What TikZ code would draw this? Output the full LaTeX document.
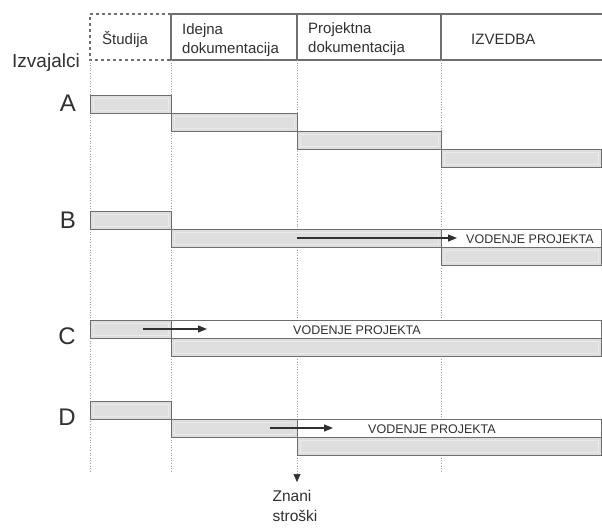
\documentclass[tikz,border=0pt]{standalone}
\usepackage{fontspec}
\setmainfont{Liberation Sans}
\usetikzlibrary{arrows.meta,positioning}
\definecolor{BarFill}{HTML}{DEDEDE}
\definecolor{BarEdge}{HTML}{6E6E6E}
\definecolor{BarGlow}{HTML}{EAEAEA}
\definecolor{GridGray}{HTML}{A0A0A0}
\definecolor{HeadGray}{HTML}{707070}
\definecolor{InkGray}{HTML}{303030}
\tikzset{
  bar/.style={draw=BarEdge,fill=BarFill,line width=1pt,anchor=north west,
              minimum height=18pt,inner sep=0pt,outer sep=0pt,
              path picture={\draw[BarGlow,line width=0.9pt]
                ([shift={(3pt,-3pt)}]path picture bounding box.north west) rectangle
                ([shift={(-3pt,3pt)}]path picture bounding box.south east);}},
  leadbox/.style={draw=BarEdge,fill=white,line width=1pt,anchor=north west,
              minimum height=18pt,inner sep=0pt,outer sep=0pt},
  headline/.style={draw=HeadGray,line width=1.1pt},
  grid/.style={draw=GridGray,line width=0.6pt,dotted},
  flow/.style={-{Triangle[length=9pt,width=7pt]},line width=1.1pt,draw=InkGray},
  headtext/.style={font=\fontsize{15}{18.5}\selectfont,text=InkGray,align=left,anchor=west,inner sep=0pt},
  rowlabel/.style={font=\fontsize{24}{24}\selectfont,text=InkGray,anchor=base east,inner sep=0pt},
  leadtext/.style={font=\fontsize{12.5}{12.5}\selectfont,text=InkGray,anchor=base west,inner sep=0pt},
  note/.style={font=\fontsize{15.5}{20}\selectfont,text=InkGray,align=left}
}
\begin{document}
\begin{tikzpicture}[x=1pt,y=-1pt]
  \useasboundingbox (0,0) rectangle (602,528);

  % header
  \draw[headline,dashed] (171,14) -- (90,14) -- (90,60) -- (171,60);
  \draw[headline] (602,14) -- (171,14) -- (171,60) -- (602,60);
  \draw[headline] (297,14) -- (297,60);
  \draw[headline] (441,14) -- (441,60);
  \node[headtext] (studija) at (102,39) {Študija};
  \node[headtext] (idejna) at (182,40) {Idejna\\dokumentacija};
  \node[headtext] (projektna) at (308,39) {Projektna\\dokumentacija};
  \node[headtext] (izvedba) at (471,39) {IZVEDBA};
  \node[headtext,anchor=base west,font=\fontsize{19}{19}\selectfont] (izvajalci) at (12,67) {Izvajalci};

  % time lines
  \foreach \x in {90,171,441}
    \draw[grid] (\x,60) -- (\x,472);
  \coordinate (costtop) at (297,60);
  \coordinate (costtip) at (297,482);
  \draw[grid,-{Triangle[length=8pt,width=7pt,color=InkGray]}] (costtop) -- (costtip);
  \node[note,below=5pt of costtip,xshift=-2pt] (cost) {Znani\\stroški};

  % A
  \node[rowlabel] (rowA) at (76,111) {A};
  \node[bar,minimum width=81pt] (a1) at (90,95) {};
  \node[bar,minimum width=126pt] (a2) at (171,113) {};
  \node[bar,minimum width=144pt] (a3) at (297,131) {};
  \node[bar,minimum width=160pt] (a4) at (441,149) {};

  % B
  \node[rowlabel] (rowB) at (76,228) {B};
  \node[bar,minimum width=81pt] (b1) at (90,211) {};
  \node[bar,minimum width=270pt] (b2) at (171,229) {};
  \node[leadbox,minimum width=160pt] (blead) at (441,229) {};
  \node[bar,minimum width=160pt] (b3) at (441,247) {};
  \node[leadtext] (btext) at (466,243) {VODENJE PROJEKTA};
  \coordinate (bfrom) at (297,238);
  \coordinate (bto) at (457,238);
  \draw[flow] (bfrom) -- (bto);

  % C
  \node[rowlabel] (rowC) at (76,344) {C};
  \node[bar,minimum width=81pt] (c1) at (90,320) {};
  \node[leadbox,minimum width=430pt] (clead) at (171,320) {};
  \node[bar,minimum width=430pt] (c2) at (171,338) {};
  \node[leadtext] (ctext) at (293,334) {VODENJE PROJEKTA};
  \coordinate (cfrom) at (143,329);
  \coordinate (cto) at (207,329);
  \draw[flow] (cfrom) -- (cto);

  % D
  \node[rowlabel] (rowD) at (76,425) {D};
  \node[bar,minimum width=81pt] (d1) at (90,401) {};
  \node[bar,minimum width=126pt] (d2) at (171,419) {};
  \node[leadbox,minimum width=304pt] (dlead) at (297,419) {};
  \node[bar,minimum width=304pt] (d3) at (297,437) {};
  \node[leadtext] (dtext) at (368,433) {VODENJE PROJEKTA};
  \coordinate (dfrom) at (270,428);
  \coordinate (dto) at (333,428);
  \draw[flow] (dfrom) -- (dto);
\end{tikzpicture}
\end{document}
